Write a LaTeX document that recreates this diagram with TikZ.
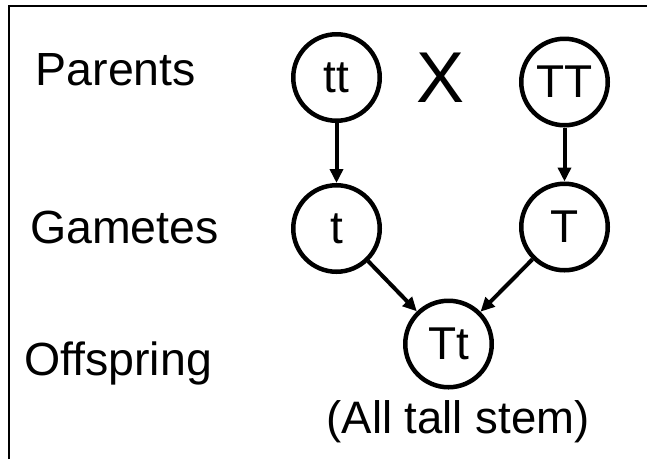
\documentclass[tikz,border=0pt]{standalone}
\usepackage{fontspec}
\setmainfont{Liberation Sans}
\usetikzlibrary{arrows.meta}
\begin{document}
\begin{tikzpicture}[x=1pt,y=-1pt,
  gene/.style={circle,draw,line width=4.5pt,minimum size=86.5pt,inner sep=0pt,
    font=\fontsize{46}{52}\selectfont},
  lbl/.style={anchor=base west,inner sep=0pt,font=\fontsize{46.5}{52}\selectfont},
  arr/.style={line width=4pt,-{Triangle[length=14pt,width=13pt]}}]
\useasboundingbox (0,0) rectangle (647,459);
\fill[white] (0,0) rectangle (647,459);
% frame (top and left edges visible)
\draw[line width=2pt] (8.5,459) -- (8.5,6) -- (647,6);
% row labels
\node[lbl] (parents) at (35.5,85) {Parents};
\node[lbl] (gametes) at (30,243) {Gametes};
\node[lbl] (offspring) at (24,375) {Offspring};
% genotypes
\node[gene] (tt) at (336.5,77.5) {tt};
\node[gene] (TT) at (564.5,82) {TT};
\node[inner sep=0pt,font=\fontsize{72}{80}\selectfont] (cross) at (440.5,78) {X};
\node[gene] (t) at (336.5,228.5) {t};
\node[gene] (T) at (564.5,227) {T};
\node[gene] (Tt) at (448.5,344) {Tt};
\node[anchor=base,inner sep=0pt,font=\fontsize{45.5}{50}\selectfont] (note) at (458,433) {(All tall stem)};
% connectors
\draw[arr] (tt) -- (t);
\draw[arr] (TT) -- (T);
\draw[arr] (t) -- (Tt);
\draw[arr] (T) -- (Tt);
\end{tikzpicture}
\end{document}
